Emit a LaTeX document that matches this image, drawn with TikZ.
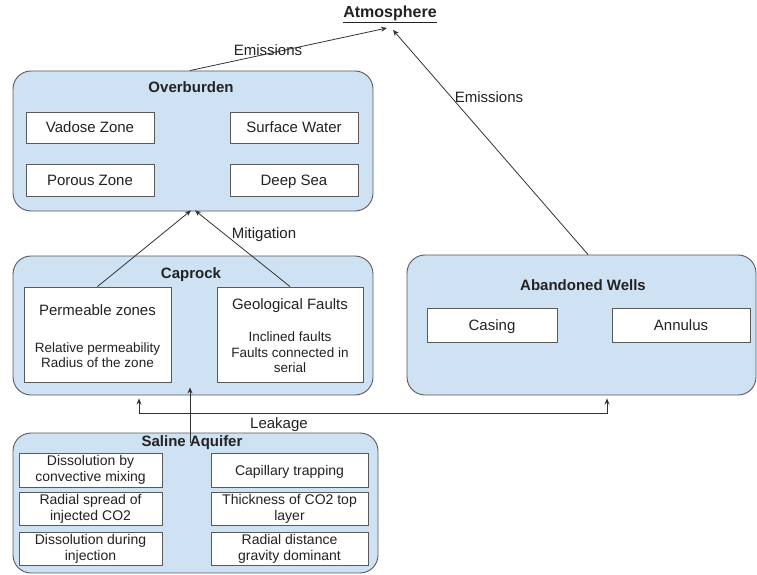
\documentclass[tikz,border=0pt]{standalone}
\usepackage{fontspec}
\setmainfont{Liberation Sans}
\usetikzlibrary{arrows.meta,calc}
\definecolor{paneblue}{HTML}{CFE2F3}
\definecolor{edge}{HTML}{595959}
\definecolor{ink}{HTML}{222222}
\definecolor{wire}{HTML}{333333}

\begin{document}
\begin{tikzpicture}[x=1pt,y=-1pt,
  every node/.style={text=ink, font=\fontsize{15}{18}\selectfont},
  oneline/.style={text height=10.8pt, text depth=0pt},
  panel/.style={draw=edge, line width=0.9pt, fill=paneblue, rounded corners=18pt, inner sep=0pt},
  item/.style={draw=edge, line width=0.9pt, fill=white, inner sep=0pt},
  word/.style={item, oneline},
  title/.style={oneline, font=\fontsize{15}{18}\selectfont\bfseries},
  small/.style={font=\fontsize{13.5}{15.5}\selectfont, align=center},
  cell/.style={item, font=\fontsize{14}{16}\selectfont, align=center, minimum height=34pt},
  flow/.style={draw=wire, line width=0.8pt, -{Stealth[length=6pt,width=5pt]}},
]
\fill[white] (0,0) rectangle (757,575);
\useasboundingbox (0,0) rectangle (757,575);

% Atmosphere
\node[text height=11.5pt, text depth=0pt, font=\fontsize{16}{19}\selectfont\bfseries] (atm) at (390,12) {\underline{Atmosphere}};
\coordinate (atmL) at (387,28);
\coordinate (atmR) at (393,30);

% Overburden
\node[panel, minimum width=360pt, minimum height=140pt] (ob) at (193,141) {};
\node[title] (obT) at (191,87) {Overburden};
\node[word, minimum width=128pt, minimum height=31pt] (vz) at (90,127.5) {Vadose Zone};
\node[word, minimum width=128pt, minimum height=31pt] (sw) at (294,127.5) {Surface Water};
\node[word, minimum width=128pt, minimum height=32pt] (pz2) at (90,180) {Porous Zone};
\node[word, minimum width=128pt, minimum height=32pt] (ds) at (294,180) {Deep Sea};

% Caprock
\node[panel, minimum width=360pt, minimum height=139pt] (cr) at (193,325.5) {};
\node[title] (crT) at (191,273) {Caprock};
\node[item, minimum width=147pt, minimum height=95pt] (pz) at (97.5,334.5) {};
\node[oneline] (pzT) at (97.5,310) {Permeable zones};
\node[small] (pzS) at (97.5,355) {Relative permeability\\Radius of the zone};
\node[item, minimum width=146pt, minimum height=95pt] (gf) at (290,334.5) {};
\node[oneline] (gfT) at (290,304) {Geological Faults};
\node[small] (gfS) at (290,352.5) {Inclined faults\\Faults connected in\\serial};

% Abandoned wells
\node[panel, minimum width=349pt, minimum height=140pt] (aw) at (581.5,325) {};
\node[title] (awT) at (583,285) {Abandoned Wells};
\node[word, minimum width=130pt, minimum height=34pt] (cs) at (492,325) {Casing};
\node[word, minimum width=138pt, minimum height=34pt] (an) at (681,325) {Annulus};

% Saline aquifer
\node[panel, minimum width=365pt, minimum height=140pt] (sa) at (195.5,503) {};
\node[title] (saT) at (192,441) {Saline Aquifer};
\node[cell, minimum width=143pt] (c11) at (90.5,470) {Dissolution by\\convective mixing};
\node[cell, oneline, minimum width=157pt] (c12) at (289.5,470) {Capillary trapping};
\node[cell, minimum width=143pt, minimum height=33pt] (c21) at (90.5,508.5) {Radial spread of\\injected CO2};
\node[cell, minimum width=157pt, minimum height=33pt] (c22) at (289.5,508.5) {Thickness of CO2 top\\layer};
\node[cell, minimum width=143pt, minimum height=33pt] (c31) at (90.5,548.5) {Dissolution during\\injection};
\node[cell, minimum width=157pt, minimum height=33pt] (c32) at (289.5,548.5) {Radial distance\\gravity dominant};

% Connector labels
\node[oneline] (emL) at (268,50) {Emissions};
\node[oneline] (emR) at (489,97) {Emissions};
\node[oneline] (mit) at (264,233) {Mitigation};
\node[oneline] (leak) at (279,423) {Leakage};

% Emissions
\draw[flow] ($(ob.north)+(-3,0)$) -- (atmL);
\draw[flow] ($(aw.north)+(6.5,0)$) -- (atmR);

% Mitigation
\draw[flow] (pz.north) -- ($(ob.south)+(-2,-1)$);
\draw[flow] (gf.north) -- ($(ob.south)+(2,-1)$);

% Leakage
\coordinate (lkL) at (139,413);
\coordinate (lkR) at (607,413);
\draw[draw=wire, line width=0.8pt, {Stealth[length=6pt,width=5pt]}-{Stealth[length=6pt,width=5pt]}]
  ($(lkL |- cr.south)+(0,3)$) -- (lkL) -- (lkR) -- ($(lkR |- aw.south)+(0,3)$);
\draw[flow] ($(sa.north)+(-5.5,10)$) -- ($(cr.south)+(-3,-8)$);
\end{tikzpicture}
\end{document}
